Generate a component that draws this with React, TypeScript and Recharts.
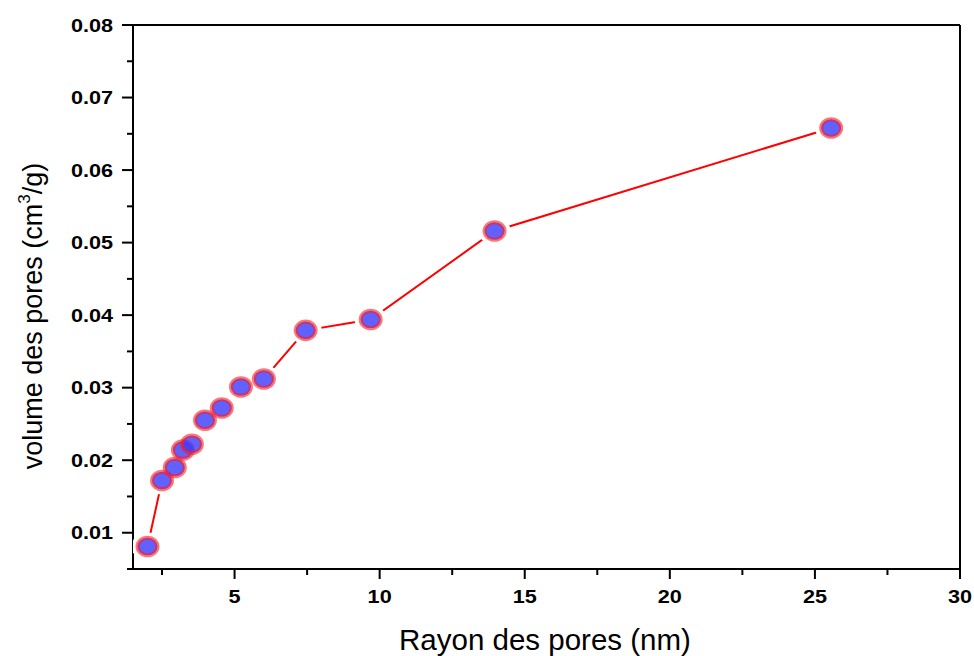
import {
  ComposedChart,
  Line,
  Scatter,
  XAxis,
  YAxis,
  ReferenceLine,
} from 'recharts'

// Rayon des pores (nm)
const radius = [2.0, 2.5, 2.94, 3.22, 3.53, 3.98, 4.56, 5.22, 6.01, 7.45, 9.69, 13.96, 25.56]
// volume des pores (cm3/g)
const volume = [
  0.0081, 0.0172, 0.019, 0.0214, 0.0222, 0.0255, 0.0272, 0.0301, 0.0312, 0.0379, 0.0394, 0.0516,
  0.0658,
]

const xTicks = [2.5, 5, 7.5, 10, 12.5, 15, 17.5, 20, 22.5, 25, 27.5, 30]
const yTicks = [
  0.005, 0.01, 0.015, 0.02, 0.025, 0.03, 0.035, 0.04, 0.045, 0.05, 0.055, 0.06, 0.065, 0.07, 0.075,
  0.08,
]

const FONT = '"Liberation Sans", Arial, sans-serif'

const data = radius.map((r, i) => ({ r, v: volume[i] }))

const isMajorX = (v: number) => Math.abs(v / 5 - Math.round(v / 5)) < 1e-6
const isMajorY = (v: number) => Math.abs(v * 100 - Math.round(v * 100)) < 1e-6

// the tick labels of the original are a slightly stretched bold Arial
function XTick({ x, y, payload }: any) {
  const major = isMajorX(payload.value)
  return (
    <g>
      <line x1={x} x2={x} y1={y} y2={y + (major ? 10 : 6)} stroke="#000" strokeWidth={2} />
      {major && (
        <text
          transform={`translate(${x} ${y + 34}) scale(1.17 1)`}
          textAnchor="middle"
          fontFamily={FONT}
          fontWeight="bold"
          fontSize={18.5}
          fill="#000"
        >
          {payload.value}
        </text>
      )}
    </g>
  )
}

function YTick({ x, y, payload }: any) {
  const major = isMajorY(payload.value)
  return (
    <g>
      <line x1={x - (major ? 11 : 6)} x2={x} y1={y} y2={y} stroke="#000" strokeWidth={2} />
      {major && (
        <text
          transform={`translate(${x - 20} ${y + 6.5}) scale(1.17 1)`}
          textAnchor="end"
          fontFamily={FONT}
          fontWeight="bold"
          fontSize={18.5}
          fill="#000"
        >
          {payload.value.toFixed(2)}
        </text>
      )}
    </g>
  )
}

function Halo({ cx, cy }: any) {
  return <ellipse cx={cx} cy={cy} rx={16} ry={14} fill="#fff" />
}

function Marker({ cx, cy }: any) {
  return (
    <ellipse
      cx={cx}
      cy={cy}
      rx={10}
      ry={8.8}
      fill="#3a3aff"
      fillOpacity={0.8}
      stroke="#ff1a1a"
      strokeOpacity={0.6}
      strokeWidth={4}
    />
  )
}

export default function App() {
  return (
    <div style={{ position: 'absolute', left: 0, top: 0, background: '#fff' }}>
      <ComposedChart width={974} height={656} data={data} margin={{ top: 25, right: 14, bottom: 57, left: 0 }}>
        <XAxis
          dataKey="r"
          type="number"
          domain={[1.5, 30]}
          ticks={xTicks}
          interval={0}
          allowDataOverflow
          height={30}
          tickSize={0}
          tickMargin={0}
          tick={<XTick />}
          axisLine={{ stroke: '#000', strokeWidth: 2 }}
          label={{
            content: () => (
              <text x={545} y={650} textAnchor="middle" fontFamily={FONT} fontSize={29.5} fill="#000">
                Rayon des pores (nm)
              </text>
            ),
          }}
        />
        <YAxis
          type="number"
          domain={[0.005, 0.08]}
          ticks={yTicks}
          interval={0}
          allowDataOverflow
          width={133}
          tickSize={0}
          tickMargin={0}
          tick={<YTick />}
          axisLine={{ stroke: '#000', strokeWidth: 2 }}
          label={{
            content: () => (
              <text
                transform="translate(42 316) rotate(-90)"
                textAnchor="middle"
                fontFamily={FONT}
                fontSize={27}
                fill="#000"
              >
                volume des pores (cm
                <tspan fontSize={17} dy={-12}>3</tspan>
                <tspan dy={12}>/g)</tspan>
              </text>
            ),
          }}
        />
        <ReferenceLine y={0.08} stroke="#000" strokeWidth={2} />
        <ReferenceLine x={30} stroke="#000" strokeWidth={2} />
        <Line dataKey="v" stroke="#ff0000" strokeWidth={2} dot={false} isAnimationActive={false} />
        <Scatter dataKey="v" shape={<Halo />} isAnimationActive={false} />
        <Scatter dataKey="v" shape={<Marker />} isAnimationActive={false} />
      </ComposedChart>
    </div>
  )
}
